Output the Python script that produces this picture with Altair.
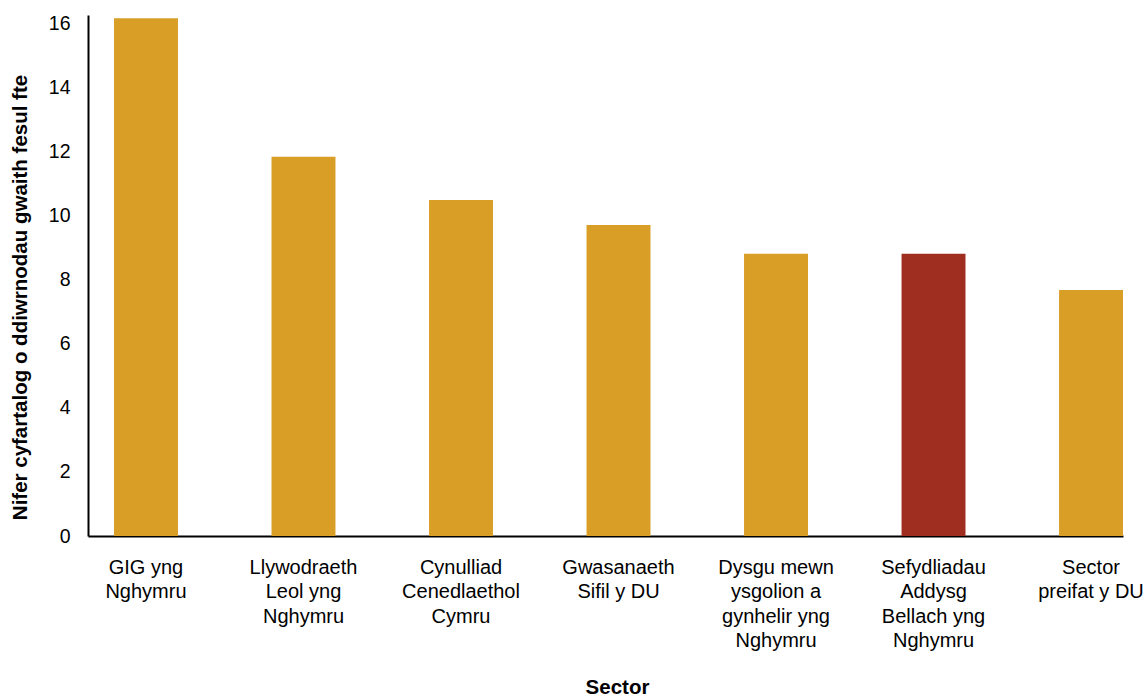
import altair as alt
import pandas as pd

sectors = [
    "GIG yng|Nghymru",
    "Llywodraeth|Leol yng|Nghymru",
    "Cynulliad|Cenedlaethol|Cymru",
    "Gwasanaeth|Sifil y DU",
    "Dysgu mewn|ysgolion a|gynhelir yng|Nghymru",
    "Sefydliadau|Addysg|Bellach yng|Nghymru",
    "Sector|preifat y DU",
]
values = [16.15, 11.83, 10.48, 9.70, 8.80, 8.80, 7.67]
highlight = [False, False, False, False, False, True, False]

df = pd.DataFrame({"sector": sectors, "value": values, "hl": highlight})

font = "Liberation Sans"

chart = (
    alt.Chart(df)
    .mark_bar()
    .encode(
        x=alt.X(
            "sector:N",
            sort=sectors,
            scale=alt.Scale(paddingInner=0.594, paddingOuter=0.0826, align=1),
            axis=alt.Axis(
                title="Sector",
                labelAngle=0,
                labelExpr="split(datum.value, '|')",
                labelFontSize=20,
                labelLineHeight=24.5,
                labelColor="#000000",
                labelFont=font,
                labelPadding=21,
                ticks=False,
                grid=False,
                domainColor="#000000",
                domainWidth=2,
                titleFont=font,
                titleFontSize=20.5,
                titleFontWeight="bold",
                titleColor="#000000",
                titleX=529,
                titleY=157,
                titleBaseline="alphabetic",
            ),
        ),
        y=alt.Y(
            "value:Q",
            scale=alt.Scale(domain=[0, 16.25], nice=False),
            axis=alt.Axis(
                title="Nifer cyfartalog o ddiwrnodau gwaith fesul fte",
                values=[0, 2, 4, 6, 8, 10, 12, 14, 16],
                grid=False,
                ticks=False,
                labelFontSize=19.5,
                labelColor="#000000",
                labelFont=font,
                labelPadding=18,
                domainColor="#000000",
                domainWidth=2,
                titleFont=font,
                titleFontSize=20.5,
                titleFontWeight="bold",
                titleColor="#000000",
                titleX=-68,
                titleY=282,
                titleBaseline="middle",
            ),
        ),
        color=alt.Color(
            "hl:N",
            scale=alt.Scale(domain=[False, True], range=["#D89E26", "#A02E20"]),
            legend=None,
        ),
    )
    .properties(
        width=1035,
        height=521,
        background="#ffffff",
        autosize=alt.AutoSizeParams(type="none"),
        padding={"left": 88, "top": 15, "right": 20, "bottom": 161},
    )
    .configure_view(stroke="transparent", strokeWidth=0)
)

chart.save("out.html", embed_options={"renderer": "svg", "actions": False})
